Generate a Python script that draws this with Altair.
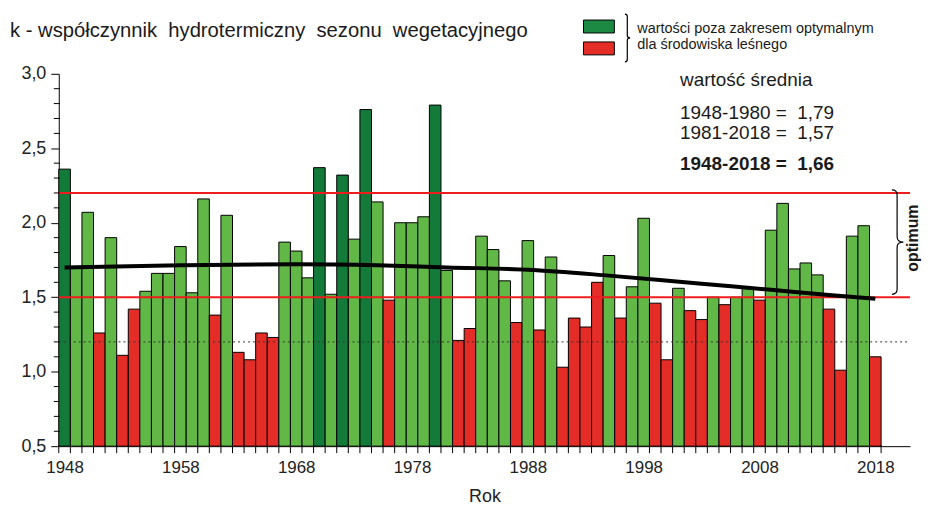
import altair as alt
import pandas as pd

# ---------------- data ----------------
years = list(range(1948, 2019))
k_values = [
    2.36, 1.70, 2.07, 1.26, 1.90, 1.11, 1.42, 1.54, 1.66, 1.66,   # 1948-1957
    1.84, 1.53, 2.16, 1.38, 2.05, 1.13, 1.08, 1.26, 1.23, 1.87,   # 1958-1967
    1.81, 1.63, 2.37, 1.52, 2.32, 1.89, 2.76, 2.14, 1.48, 2.00,   # 1968-1977
    2.00, 2.04, 2.79, 1.68, 1.21, 1.29, 1.91, 1.82, 1.61, 1.33,   # 1978-1987
    1.88, 1.28, 1.77, 1.03, 1.36, 1.30, 1.60, 1.78, 1.36, 1.57,   # 1988-1997
    2.03, 1.46, 1.08, 1.56, 1.41, 1.35, 1.50, 1.45, 1.50, 1.56,   # 1998-2007
    1.48, 1.95, 2.13, 1.69, 1.73, 1.65, 1.42, 1.01, 1.91, 1.98,   # 2008-2017
    1.10,                                                         # 2018
]
# D = dark green, L = light green, R = red
colour_class = [
    "D", "L", "L", "R", "L", "R", "R", "L", "L", "L",
    "L", "L", "L", "R", "L", "R", "R", "R", "R", "L",
    "L", "L", "D", "L", "D", "L", "D", "L", "R", "L",
    "L", "L", "D", "L", "R", "R", "L", "L", "L", "R",
    "L", "R", "L", "R", "R", "R", "R", "L", "R", "L",
    "L", "R", "R", "L", "R", "R", "L", "R", "L", "L",
    "R", "L", "L", "L", "L", "L", "R", "R", "L", "L",
    "R",
]
trend_years = [1948, 1958, 1968, 1975, 1981, 1988, 1995, 2003, 2009, 2014, 2018]
trend_values = [1.70, 1.715, 1.722, 1.715, 1.70, 1.685, 1.645, 1.59, 1.55, 1.515, 1.49]
optimum_bounds = [1.5, 2.2]
reference_level = [1.2]
y_major = [0.5, 1.0, 1.5, 2.0, 2.5, 3.0]
y_minor = [0.6, 0.7, 0.8, 0.9, 1.1, 1.2, 1.3, 1.4, 1.6, 1.7, 1.8, 1.9,
           2.1, 2.2, 2.3, 2.4, 2.6, 2.7, 2.8, 2.9]
x_label_years = [1948, 1958, 1968, 1978, 1988, 1998, 2008, 2018]

NB = "\u00a0"
title_text = f"k - współczynnik{NB} hydrotermiczny{NB} sezonu{NB} wegetacyjnego"
legend_texts = ["wartości poza zakresem optymalnym", "dla środowiska leśnego"]
mean_header = "wartość średnia"
mean_lines = [f"1948-1980 ={NB} 1,79", f"1981-2018 ={NB} 1,57"]
mean_total = f"1948-2018 ={NB} 1,66"
optimum_label = "optimum"

# ---------------- layout / style ----------------
W, H = 855, 374
DARK, LIGHT, RED = "#137a3a", "#62b846", "#e52d27"
FONT = "Liberation Sans"
BRACE = "M -0.1 -1 Q 0 -1 0 -0.9 L 0 -0.1 Q 0 0 0.12 0 Q 0 0 0 0.1 L 0 0.9 Q 0 1 -0.1 1"
X0, X1 = 1947.5, 2021

bars_df = pd.DataFrame({"year": years, "k": k_values, "cls": colour_class})
bars_df["x0"] = bars_df["year"] - 0.5
bars_df["x1"] = bars_df["year"] + 0.5
bars_df["base"] = 0.5

xscale = alt.Scale(domain=[X0, X1], nice=False, zero=False)
yscale = alt.Scale(domain=[0.5, 3.0], nice=False, zero=False)

XAXIS = alt.Axis(values=x_label_years, ticks=False, format="d",
                 labelFontSize=17, labelFont=FONT, labelColor="#222",
                 labelPadding=13, domainColor="black", grid=False,
                 labelFlush=False, labelOverlap=False,
                 title="Rok", titleFontSize=18, titleFont=FONT,
                 titleFontWeight="normal", titleColor="#222", titlePadding=13)
YAXIS = alt.Axis(values=y_major, tickSize=8, tickColor="black",
                 domainColor="black", grid=False, title=None,
                 labelExpr="replace(format(datum.value, '.1f'), '.', ',')",
                 labelFontSize=18, labelFont=FONT, labelColor="#222",
                 labelPadding=5, labelFlush=False, labelOverlap=False)


def X(field):
    return alt.X(field, scale=xscale, axis=XAXIS, title="Rok")


def Y(field):
    return alt.Y(field, scale=yscale, axis=YAXIS, title=None)


bars = alt.Chart(bars_df).mark_rect(stroke="black", strokeWidth=1).encode(
    x=X("x0:Q"), x2="x1:Q", y=Y("k:Q"), y2="base:Q",
    color=alt.Color("cls:N", scale=alt.Scale(domain=["D", "L", "R"],
                                             range=[DARK, LIGHT, RED]),
                    legend=None),
)

# minor y ticks
minor_df = pd.DataFrame({"v": y_minor})
minor_ticks = alt.Chart(minor_df).mark_rule(color="black", strokeWidth=1).encode(
    y=Y("v:Q"), x=alt.value(-5), x2=alt.value(1))

# x ticks at bar edges
edge_df = pd.DataFrame({"e": [y - 0.5 for y in years] + [years[-1] + 0.5]})
x_ticks = alt.Chart(edge_df).mark_rule(color="black", strokeWidth=1).encode(
    x=X("e:Q"), y=alt.value(H - 1), y2=alt.value(H + 7))

# optimum lines
opt_df = pd.DataFrame({"v": optimum_bounds, "a": [X0] * 2, "b": [X1] * 2})
opt_lines = alt.Chart(opt_df).mark_rule(color="#ee1c1c", strokeWidth=2).encode(
    y=Y("v:Q"), x=X("a:Q"), x2="b:Q")

ref_df = pd.DataFrame({"v": reference_level, "a": [X0], "b": [X1]})
ref_line = alt.Chart(ref_df).mark_rule(color="#333", strokeWidth=1,
                                       strokeDash=[2, 3]).encode(
    y=Y("v:Q"), x=X("a:Q"), x2="b:Q")

trend_df = pd.DataFrame({"year": trend_years, "t": trend_values})
trend = alt.Chart(trend_df).mark_line(color="black", strokeWidth=4,
                                      interpolate="monotone").encode(
    x=X("year:Q"), y=Y("t:Q"))

one = pd.DataFrame({"d": [0]})


def text_at(txt, x, y, size, weight="normal", angle=0, align="left",
            baseline="alphabetic"):
    kw = dict(align=align, baseline=baseline, fontSize=size, font=FONT,
              fontWeight=weight, color="#1a1a1a", text=txt)
    if angle:
        kw["angle"] = angle
    return alt.Chart(one).mark_text(**kw).encode(x=alt.value(x), y=alt.value(y))


def box_at(x, x2, y, y2, fill):
    return alt.Chart(one).mark_rect(stroke="black", strokeWidth=1, color=fill).encode(
        x=alt.value(x), x2=alt.value(x2), y=alt.value(y), y2=alt.value(y2))


def brace_at(x, y, size):
    return alt.Chart(one).mark_point(
        shape=BRACE, size=size, stroke="black", strokeWidth=1.2, filled=False,
        opacity=1).encode(x=alt.value(x), y=alt.value(y))


annotations = [
    text_at(title_text, -49, -37, 20.3),
    text_at(legend_texts[0], 581, -41, 14.5),
    text_at(legend_texts[1], 581, -25, 14.5),
    text_at(mean_header, 624, 12, 19),
    text_at(mean_lines[0], 624, 45, 19),
    text_at(mean_lines[1], 624, 65, 19),
    text_at(mean_total, 624, 97, 19, weight="bold"),
    text_at(optimum_label, 858, 165, 16, weight="bold", angle=270, align="center",
            baseline="middle"),
    box_at(527, 558, -54, -41, "#1d8a44"),
    box_at(527, 558, -32, -19, RED),
    brace_at(571, -36, 2304),
    brace_at(842, 169, 11025),
]

chart = alt.layer(
    bars, ref_line, opt_lines, trend, minor_ticks, x_ticks, *annotations,
).properties(
    width=W, height=H, background="white",
    autosize=alt.AutoSizeParams(type="none"),
    padding={"left": 51, "top": 65, "right": 12, "bottom": 58},
).configure_view(stroke=None)

chart.save("out.html", embed_options={"renderer": "svg", "actions": False})
